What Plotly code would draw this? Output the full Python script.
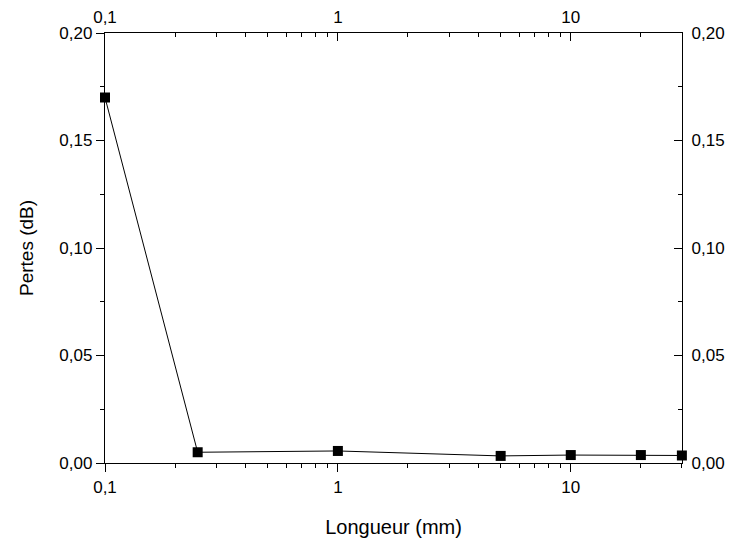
import math
import plotly.graph_objects as go

longueur = [0.1, 0.25, 1, 5, 10, 20, 30]
pertes = [0.170, 0.005, 0.0056, 0.0033, 0.0037, 0.0037, 0.0035]

x_ticks = [0.1, 1, 10]
x_tick_labels = ["0,1", "1", "10"]
x_minor = [m * d for d in (0.1, 1, 10) for m in range(2, 10)]
y_ticks = [0, 0.05, 0.10, 0.15, 0.20]
y_tick_labels = ["0,00", "0,05", "0,10", "0,15", "0,20"]
y_minor = [0.025, 0.075, 0.125, 0.175]

font = "Liberation Sans, Arial, sans-serif"

fig = go.Figure()
fig.add_trace(go.Scatter(
    x=longueur, y=pertes, mode="lines+markers",
    line=dict(color="black", width=1),
    marker=dict(symbol="square", size=10, color="black"),
    cliponaxis=False, showlegend=False,
))
# dummy trace so the top/right axes get drawn
fig.add_trace(go.Scatter(
    x=[0.1], y=[0], xaxis="x2", yaxis="y2", mode="markers",
    marker=dict(opacity=0), showlegend=False, hoverinfo="skip",
))

xr = [-1, math.log10(30) + 0.0005]
yr = [0, 0.2]

common_x = dict(type="log", range=xr, tickmode="array", tickvals=x_ticks,
                ticktext=x_tick_labels, showgrid=False, zeroline=False,
                showline=True, linecolor="black", linewidth=1.3,
                tickcolor="black", tickwidth=1.3, ticklen=8, automargin=False,
                tickfont=dict(family=font, size=17, color="black"))
common_y = dict(range=yr, tickmode="array", tickvals=y_ticks,
                ticktext=y_tick_labels, showgrid=False, zeroline=False,
                showline=True, linecolor="black", linewidth=1.3,
                tickcolor="black", tickwidth=1.3, ticklen=8, automargin=False,
                tickfont=dict(family=font, size=17, color="black"))

fig.update_layout(
    width=737, height=543,
    margin=dict(l=97, r=63, t=25, b=88),
    paper_bgcolor="white", plot_bgcolor="white",
    xaxis=dict(**common_x, ticks="outside", side="bottom",
               minor=dict(tickmode="array", tickvals=x_minor, ticks="outside",
                          ticklen=4, tickwidth=1.3, tickcolor="black"),
               title=dict(text="Longueur (mm)", standoff=24,
                          font=dict(family=font, size=20, color="black"))),
    xaxis2=dict(**common_x, ticks="inside", side="top", overlaying="x",
                ticklabelstandoff=2,
                minor=dict(tickmode="array", tickvals=x_minor, ticks="inside",
                           ticklen=4, tickwidth=1.3, tickcolor="black")),
    yaxis=dict(**common_y, ticks="outside", side="left",
               minor=dict(tickmode="array", tickvals=y_minor, ticks="outside",
                          ticklen=4, tickwidth=1.3, tickcolor="black"),
               title=dict(text="Pertes (dB)", standoff=20,
                          font=dict(family=font, size=19, color="black"))),
    yaxis2=dict(**common_y, ticks="inside", side="right", overlaying="y",
                ticklabelstandoff=5,
                minor=dict(tickmode="array", tickvals=y_minor, ticks="inside",
                           ticklen=4, tickwidth=1.3, tickcolor="black")),
)

fig.write_html("out.html")
